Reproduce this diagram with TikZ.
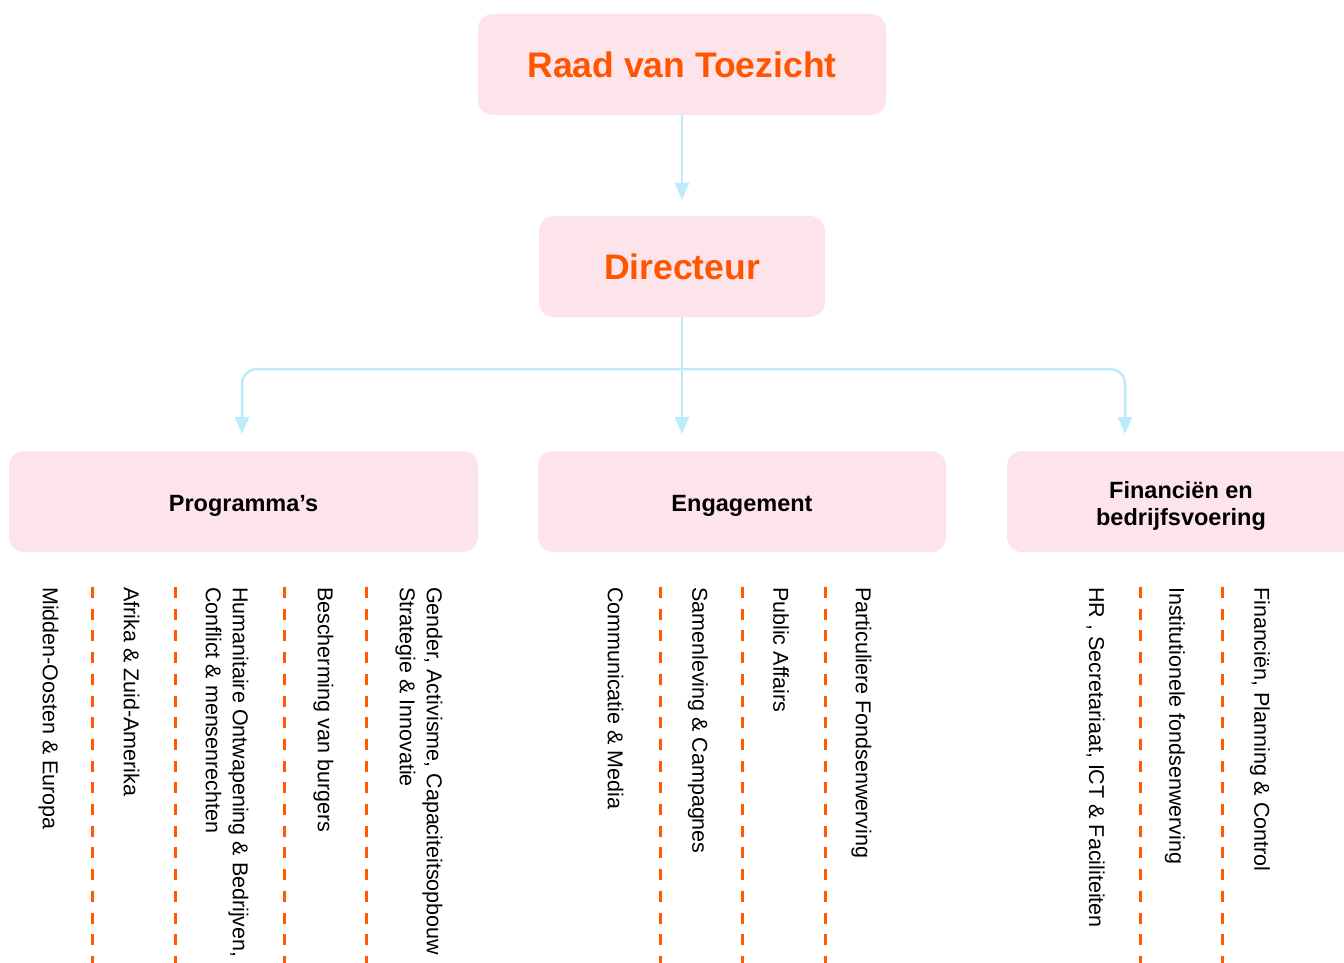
\documentclass[tikz,border=0pt]{standalone}
\usepackage{fontspec}
\setmainfont{Liberation Sans}
\usetikzlibrary{arrows.meta}
\definecolor{boxpink}{RGB}{253,228,234}
\definecolor{titleorange}{RGB}{255,85,0}
\definecolor{linkblue}{RGB}{189,235,250}
\definecolor{dashorange}{RGB}{255,90,0}
\tikzset{
  box/.style={fill=boxpink, draw=none, rounded corners=15pt, minimum height=101pt, inner sep=0pt},
  topbox/.style={box, font=\bfseries\fontsize{35.5}{40}\selectfont, text=titleorange},
  unitbox/.style={box},
  unittext/.style={font=\bfseries\fontsize{23.5}{27.5}\selectfont, text=black, align=center, yshift=-4.5pt, inner sep=0pt},
  link/.style={draw=linkblue, line width=2.5pt},
  linkarrow/.style={link, -{Triangle[width=14pt,length=17pt]}},
  sublabel/.style={rotate=-90, anchor=west, inner sep=0pt, align=left, font=\fontsize{21.5}{27}\selectfont, text=black},
  sep/.style={draw=dashorange, line width=3pt, dash pattern=on 11pt off 10.7pt}
}
\begin{document}
\begin{tikzpicture}[x=1pt,y=-1pt]
\useasboundingbox (0,0) rectangle (1344,963);
\clip (0,0) rectangle (1344,963);
\fill[white] (0,0) rectangle (1344,963);

% main boxes
\node[topbox, minimum width=408pt] (raad) at (682,64.5) {Raad van Toezicht};
\node[topbox, minimum width=286pt] (dir) at (682,266.5) {Directeur};
\node[unitbox, minimum width=469pt, label={[unittext]center:Programma’s}] (prog) at (243.5,501.5) {};
\node[unitbox, minimum width=408pt, label={[unittext]center:Engagement}] (eng) at (742,501.5) {};
\node[unitbox, minimum width=348pt, label={[unittext]center:Financiën en\\bedrijfsvoering}] (fin) at (1181,501.5) {};

% connectors
\coordinate (hub) at (682,369);
\coordinate (progin) at (242,451);
\coordinate (engin) at (682,451);
\coordinate (finin) at (1125,451);
\draw[linkarrow, shorten >=16pt] (raad.south) -- (dir.north);
\draw[link] (dir.south) -- (hub);
\draw[linkarrow, shorten >=17pt] (hub) -- (engin);
\draw[linkarrow, rounded corners=15pt, shorten >=17pt] (hub) -| (progin);
\draw[linkarrow, rounded corners=15pt, shorten >=17pt] (hub) -| (finin);

% Programma's sub-units
\node[sublabel] (p1) at (48.5,587) {Midden-Oosten \& Europa};
\node[sublabel] (p2) at (131.5,587) {Afrika \& Zuid-Amerika};
\node[sublabel] (p3) at (227,587) {Humanitaire Ontwapening \& Bedrijven,\\Conflict \& mensenrechten};
\node[sublabel] (p4) at (323.5,587) {Bescherming van burgers};
\node[sublabel] (p5) at (419,587) {Gender, Activisme, Capaciteitsopbouw\\Strategie \& Innovatie};
\draw[sep] (92.7,587) -- (92.7,963);
\draw[sep] (175,587) -- (175,963);
\draw[sep] (284,587) -- (284,963);
\draw[sep] (366.7,587) -- (366.7,963);

% Engagement sub-units
\node[sublabel] (e1) at (615.5,587) {Communicatie \& Media};
\node[sublabel] (e2) at (698,587) {Samenleving \& Campagnes};
\node[sublabel] (e3) at (781,587) {Public Affairs};
\node[sublabel] (e4) at (861.5,587) {Particuliere Fondsenwerving};
\draw[sep] (660,587) -- (660,963);
\draw[sep] (742,587) -- (742,963);
\draw[sep] (825,587) -- (825,963);

% Financien sub-units
\node[sublabel] (f1) at (1095.5,587) {HR , Secretariaat, ICT \& Faciliteiten};
\node[sublabel] (f2) at (1175,587) {Institutionele fondsenwerving};
\node[sublabel] (f3) at (1260,587) {Financiën, Planning \& Control};
\draw[sep] (1140,587) -- (1140,963);
\draw[sep] (1222,587) -- (1222,963);
\end{tikzpicture}
\end{document}
